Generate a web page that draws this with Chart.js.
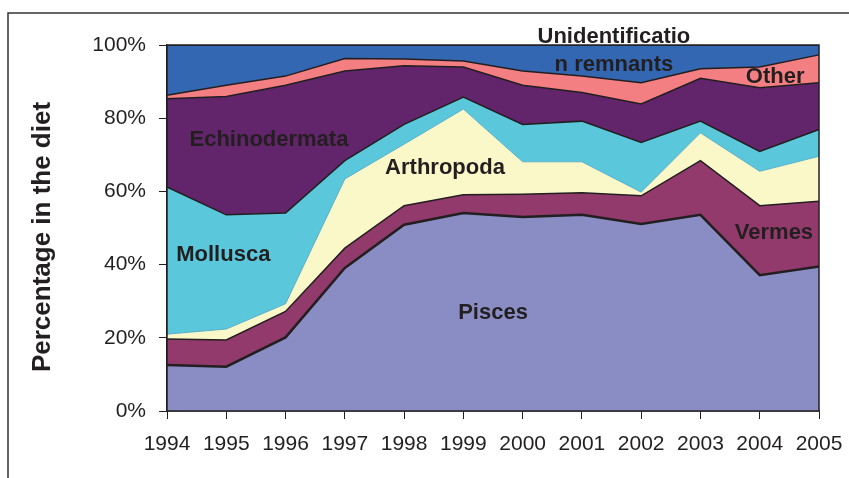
<!DOCTYPE html>
<html>
<head>
<meta charset="utf-8">
<script src="https://cdn.jsdelivr.net/npm/chart.js@4/dist/chart.umd.min.js"></script>
<style>
  body { margin: 0; background: #fff; }
  #wrap { width: 849px; height: 478px; }
</style>
</head>
<body>
<div id="wrap"><canvas id="myChart" width="849" height="478"></canvas></div>
<script>
// data (percent of diet per year)
const years = ['1994', '1995', '1996', '1997', '1998', '1999', '2000', '2001', '2002', '2003', '2004', '2005'];
const pisces        = [12.6, 12.1, 20.1, 39.1, 50.9, 54.1, 53.0, 53.6, 51.1, 53.6, 37.1, 39.5];
const vermes        = [7.1, 7.3, 7.1, 5.4, 5.2, 5.0, 6.2, 6.0, 7.7, 14.8, 19.0, 17.8];
const arthropoda    = [1.3, 3.0, 2.1, 18.9, 16.8, 23.4, 8.9, 8.5, 1.0, 7.6, 9.4, 12.3];
const mollusca      = [40.2, 31.2, 24.8, 5.0, 5.4, 3.3, 10.2, 11.1, 13.6, 3.2, 5.4, 7.3];
const echinodermata = [24.1, 32.3, 34.9, 24.5, 16.0, 8.2, 10.7, 7.8, 10.5, 11.7, 17.4, 12.8];
const other         = [1.0, 3.1, 2.5, 3.4, 1.9, 1.6, 3.9, 4.5, 5.8, 2.6, 5.7, 7.6];
const unidentified  = [13.7, 11.0, 8.5, 3.7, 3.8, 4.4, 7.1, 8.5, 10.3, 6.5, 6.0, 2.7];
const yTicks = [0, 20, 40, 60, 80, 100];

const ink = '#231F20';

function layer(label, values, fillColor, lineColor, lineWidth, fill) {
  return {
    label,
    data: values,
    backgroundColor: fillColor,
    borderColor: lineColor,
    borderWidth: lineWidth,
    fill,
    pointRadius: 0,
    tension: 0
  };
}

const data = {
  labels: years,
  datasets: [
    layer('Pisces', pisces, '#8A8DC4', ink, 2.5, 'origin'),
    layer('Vermes', vermes, '#923A6C', ink, 1.5, '-1'),
    layer('Arthropoda', arthropoda, '#FAF7C9', '#55AECB', 1, '-1'),
    layer('Mollusca', mollusca, '#5AC7DB', ink, 1.5, '-1'),
    layer('Echinodermata', echinodermata, '#62246A', ink, 1.5, '-1'),
    layer('Other', other, '#F47F82', ink, 1.5, '-1'),
    layer('Unidentification remnants', unidentified, '#3367B2', ink, 1.5, '-1')
  ]
};

// text placed inside the areas: [text, x (year index), y (percent)]
const areaLabels = [
  ['Unidentificatio', 7.54, 102.2],
  ['n remnants', 7.54, 94.5],
  ['Other', 10.26, 91.3],
  ['Echinodermata', 1.72, 74.0],
  ['Arthropoda', 4.69, 66.4],
  ['Mollusca', 0.95, 42.6],
  ['Pisces', 5.5, 26.7],
  ['Vermes', 10.24, 48.7]
];

const decorations = {
  id: 'decorations',
  beforeDraw(chart) {
    const { ctx } = chart;
    ctx.save();
    // outer frame (top and left visible)
    ctx.strokeStyle = '#333';
    ctx.lineWidth = 1.5;
    ctx.beginPath();
    ctx.moveTo(8, 478);
    ctx.lineTo(8, 13);
    ctx.lineTo(849, 13);
    ctx.stroke();
    // y axis title
    ctx.translate(50, 237);
    ctx.rotate(-Math.PI / 2);
    ctx.font = 'bold 26px "Liberation Sans", Arial, sans-serif';
    ctx.fillStyle = ink;
    ctx.textAlign = 'center';
    ctx.textBaseline = 'alphabetic';
    ctx.fillText('Percentage in the diet', 0, 0);
    ctx.restore();
  },
  afterDatasetsDraw(chart) {
    const { ctx, chartArea: { left, top, width, height }, scales: { x, y } } = chart;
    ctx.save();
    ctx.strokeStyle = ink;
    ctx.lineWidth = 1.5;
    ctx.strokeRect(left, top, width, height);
    ctx.font = 'bold 22px "Liberation Sans", Arial, sans-serif';
    ctx.fillStyle = ink;
    ctx.textAlign = 'center';
    ctx.textBaseline = 'middle';
    areaLabels.forEach(([t, xi, yv]) => {
      ctx.fillText(t, x.getPixelForValue(xi), y.getPixelForValue(yv));
    });
    ctx.restore();
  }
};

const config = {
  type: 'line',
  data,
  options: {
    responsive: false,
    animation: false,
    layout: { padding: { top: 45, right: 30, left: 0, bottom: 0 } },
    plugins: {
      legend: { display: false },
      tooltip: { enabled: false }
    },
    scales: {
      x: {
        offset: false,
        grid: { drawOnChartArea: false, drawTicks: true, tickLength: 8, color: ink },
        border: { display: true, color: ink, width: 1.5 },
        ticks: {
          color: ink,
          padding: 13,
          maxRotation: 0,
          autoSkip: false,
          font: { family: '"Liberation Sans", Arial, sans-serif', size: 21 }
        },
        afterFit(scale) {
          scale.height = 67;
          scale.paddingLeft = 0;
          scale.paddingRight = 0;
        }
      },
      y: {
        stacked: true,
        min: 0,
        max: 100,
        afterBuildTicks(scale) { scale.ticks = yTicks.map(v => ({ value: v })); },
        grid: { drawOnChartArea: false, drawTicks: true, tickLength: 8, color: ink },
        border: { display: true, color: ink, width: 1.5 },
        ticks: {
          color: ink,
          padding: 13,
          callback: v => v + '%',
          font: { family: '"Liberation Sans", Arial, sans-serif', size: 21 }
        },
        afterFit(scale) {
          scale.width = 167;
          scale.paddingTop = 0;
          scale.paddingBottom = 0;
        }
      }
    }
  },
  plugins: [decorations]
};

const myChart = new Chart(document.getElementById('myChart'), config);
</script>
</body>
</html>
